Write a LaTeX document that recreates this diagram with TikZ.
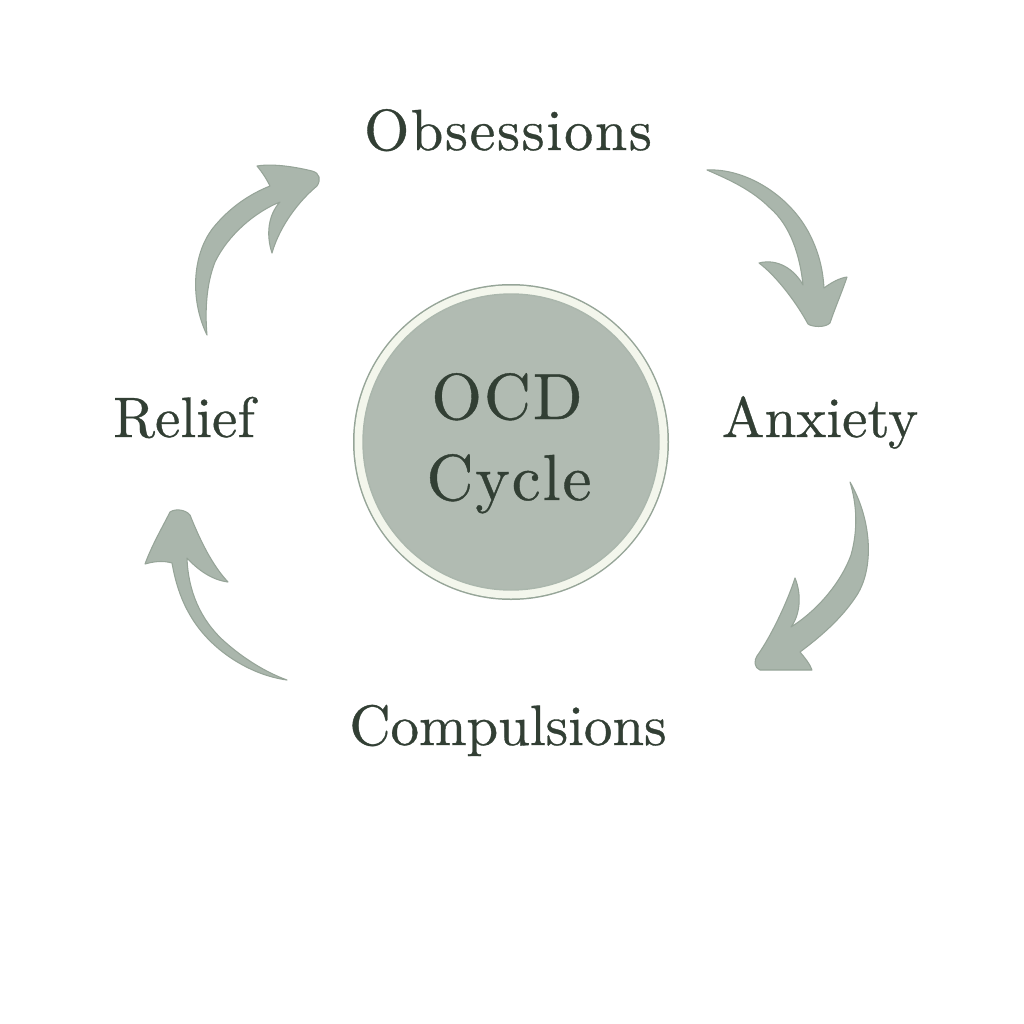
\documentclass[tikz,border=0pt]{standalone}
\usepackage{fontspec}
\newfontfamily\lblfont{lmroman10-regular}[Extension=.otf, FakeBold=0.6, LetterSpace=3]
\newfontfamily\lblfontn{lmroman10-regular}[Extension=.otf, FakeBold=0.6]
\definecolor{txt}{RGB}{50,63,52}
\definecolor{arr}{RGB}{170,182,172}
\definecolor{arredge}{RGB}{150,164,152}
\definecolor{disc}{RGB}{177,187,178}
\definecolor{ring}{RGB}{243,246,236}
\definecolor{ringedge}{RGB}{150,165,152}
\begin{document}
\begin{tikzpicture}[x=0.01cm,y=-0.01cm,
  lbl/.style={text=txt, font=\lblfont\fontsize{16.5}{20}\selectfont, anchor=base, inner sep=0pt},
  lbln/.style={lbl, font=\lblfontn\fontsize{16.2}{20}\selectfont},
  big/.style={lbl, font=\lblfont\fontsize{18.5}{22}\selectfont},
  arrowshape/.style={fill=arr, draw=arredge, line width=0.3pt, line join=round}]
\useasboundingbox[fill=white] (0,0) rectangle (1024,1024);

% central disc
\coordinate (c) at (511,442);
\fill[ringedge] (c) circle (158);
\fill[ring] (c) circle (156.5);
\filldraw[fill=disc, draw=ringedge!80, line width=0.4pt] (c) circle (148);
\node[big] (ocd) at (507,419) {OCD};
\node[big] (cyc) at (509,500) {Cycle};

% labels
\node[lbl] (obs) at (508,150) {Obsessions};
\node[lbln] (anx) at (820,437) {Anxiety};
\node[lbln] (com) at (508,745) {Compulsions};
\node[lbln] (rel) at (184,437) {Relief};

% arrow Relief -> Obsessions
\path[arrowshape] (207,335)
 .. controls (190,300) and (192,255) .. (213,228)
 .. controls (230,207) and (250,194) .. (270,186)
 .. controls (266,178) and (262,172) .. (257,166)
 .. controls (275,163) and (300,168) .. (312,171)
 .. controls (320,173) and (321,180) .. (317,186)
 .. controls (300,200) and (280,225) .. (272,253)
 .. controls (266,235) and (268,215) .. (280,202)
 .. controls (255,212) and (228,235) .. (215,262)
 .. controls (206,285) and (205,312) .. (207,335) -- cycle;

% arrow Obsessions -> Anxiety
\path[arrowshape] (707,170)
 .. controls (745,168) and (790,195) .. (810,235)
 .. controls (820,255) and (823,272) .. (824,288)
 .. controls (832,282) and (840,278) .. (847,277)
 .. controls (842,292) and (835,308) .. (830,323)
 .. controls (825,328) and (812,327) .. (808,324)
 .. controls (795,300) and (775,275) .. (759,263)
 .. controls (778,258) and (795,270) .. (803,285)
 .. controls (800,255) and (790,225) .. (770,208)
 .. controls (752,190) and (730,180) .. (707,170) -- cycle;

% arrow Anxiety -> Compulsions
\path[arrowshape] (850,482)
 .. controls (872,520) and (875,570) .. (855,598)
 .. controls (840,620) and (820,637) .. (800,652)
 .. controls (805,658) and (810,664) .. (812,670)
 .. controls (795,670) and (775,670) .. (760,670)
 .. controls (754,668) and (754,660) .. (757,656)
 .. controls (772,635) and (788,600) .. (795,578)
 .. controls (802,595) and (800,615) .. (791,627)
 .. controls (815,612) and (840,585) .. (851,555)
 .. controls (858,530) and (857,505) .. (850,482) -- cycle;

% arrow Compulsions -> Relief
\path[arrowshape] (287,680)
 .. controls (250,675) and (210,650) .. (190,615)
 .. controls (180,598) and (175,580) .. (172,563)
 .. controls (162,560) and (152,562) .. (145,564)
 .. controls (152,545) and (162,528) .. (170,512)
 .. controls (176,508) and (186,510) .. (190,515)
 .. controls (200,540) and (212,565) .. (228,582)
 .. controls (212,580) and (198,570) .. (187,558)
 .. controls (188,590) and (200,620) .. (225,642)
 .. controls (243,658) and (265,672) .. (287,680) -- cycle;
\end{tikzpicture}
\end{document}
